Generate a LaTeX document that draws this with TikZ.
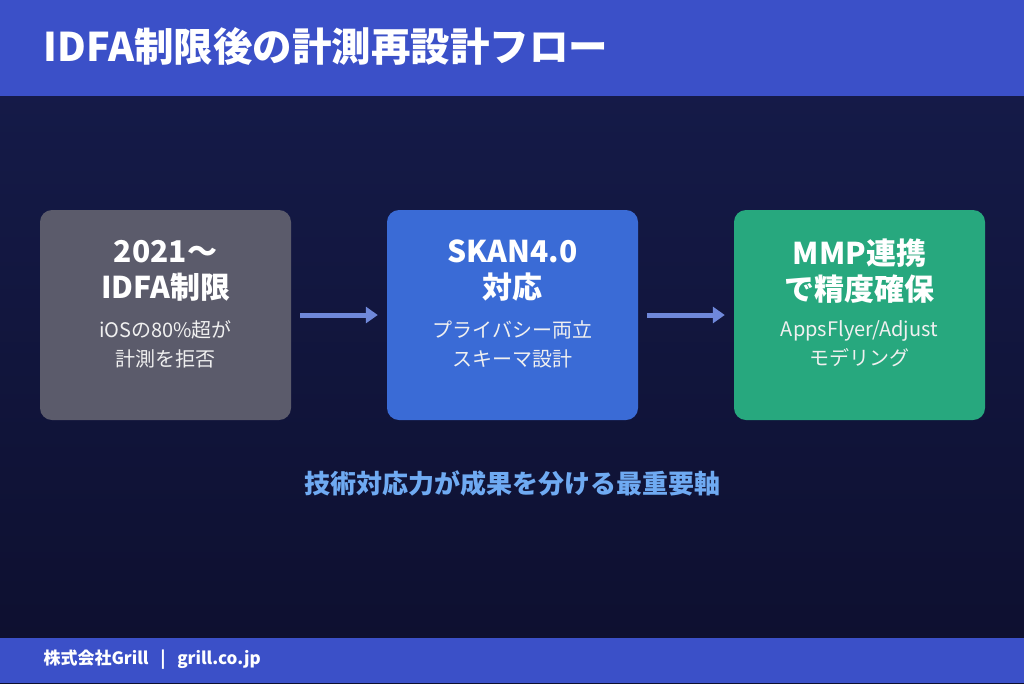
\documentclass[tikz,border=0pt]{standalone}
\usepackage{fontspec}
\setmainfont{Noto Sans CJK JP}
\usetikzlibrary{arrows.meta}
\definecolor{hdr}{HTML}{3B50C8}
\definecolor{bgtop}{HTML}{161C4C}
\definecolor{bgbot}{HTML}{0D0F2E}
\definecolor{gbox}{HTML}{5B5B6B}
\definecolor{bbox}{HTML}{3A6BD6}
\definecolor{tbox}{HTML}{27A87E}
\definecolor{arr}{HTML}{6F88DA}
\definecolor{keyc}{HTML}{6FAAF2}
\begin{document}
\begin{tikzpicture}[x=1pt,y=-1pt,
  box/.style={rounded corners=12pt,minimum width=251pt,minimum height=210pt,inner sep=0pt},
  ttl/.style={text=white,font=\fontsize{30}{36}\selectfont\bfseries,align=center},
  sub/.style={text=white!88!gray,font=\fontsize{20}{29}\selectfont,align=center},
  ar/.style={arr,line width=5pt,-{Triangle[length=12pt,width=16pt]}}]
\useasboundingbox (0,0) rectangle (1024,683);
\shade[top color=bgtop,bottom color=bgbot] (0,0) rectangle (1024,683);
\fill[hdr] (0,0) rectangle (1024,96);
\fill[hdr] (0,638) rectangle (1024,683);
\node[anchor=west,text=white,font=\fontsize{39.5}{46}\selectfont\bfseries] (title) at (40,46) {IDFA制限後の計測再設計フロー};
\node[box,fill=gbox] (b1) at (165.5,315) {};
\node[box,fill=bbox] (b2) at (512.5,315) {};
\node[box,fill=tbox] (b3) at (859.5,315) {};
\node[ttl] (t1) at (165.5,271) {2021〜\\IDFA制限};
\node[sub] (s1) at (165.5,344) {iOSの80\%超が\\計測を拒否};
\node[ttl] (t2) at (512.5,271) {SKAN4.0\\対応};
\node[sub] (s2) at (512.5,344) {プライバシー両立\\スキーマ設計};
\node[ttl] (t3) at (859.5,271) {MMP連携\\で精度確保};
\node[sub] (s3) at (859.5,344) {AppsFlyer/Adjust\\モデリング};
\draw[ar] ([xshift=9pt]b1.east) -- ([xshift=-9pt]b2.west);
\draw[ar] ([xshift=9pt]b2.east) -- ([xshift=-9pt]b3.west);
\node[text=keyc,font=\fontsize{26}{31}\selectfont\bfseries] (key) at (512,484) {技術対応力が成果を分ける最重要軸};
\node[anchor=west,text=white,font=\fontsize{17}{22}\selectfont\bfseries] (foot) at (40,660) {株式会社Grill \ \ | \ \ grill.co.jp};
\end{tikzpicture}
\end{document}
